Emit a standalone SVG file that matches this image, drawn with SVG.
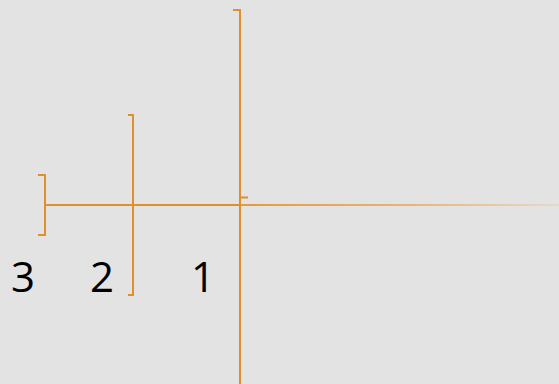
<svg xmlns="http://www.w3.org/2000/svg" width="559" height="384" viewBox="0 0 559 384">
<defs>
<linearGradient id="fade" x1="240" y1="0" x2="559" y2="0" gradientUnits="userSpaceOnUse">
<stop offset="0" stop-color="#E39A3F"/>
<stop offset="0.5" stop-color="#E8B272"/>
<stop offset="1" stop-color="#E6D9C8"/>
</linearGradient>
<style>
.ln{stroke:#DF8F2D;stroke-width:2;fill:none}
.thin{stroke:#DF8F2D;stroke-width:1.8;fill:none}
.lbl{font-family:"Open Sans","Noto Sans",sans-serif;font-size:42px;fill:#000}
</style>
</defs>
<rect width="559" height="384" fill="#E3E3E3"/>
<g id="connectors">
<line class="thin" x1="44" y1="205" x2="241" y2="205"/>
<line x1="241" y1="205" x2="559" y2="205" stroke="url(#fade)" stroke-width="1.8"/>
<line class="ln" x1="240" y1="197.5" x2="248" y2="197.5" stroke-width="3"/>
</g>
<g id="node-1">
<polyline class="ln" points="233,10 240,10 240,384"/>
<text class="lbl" x="191" y="292">1</text>
</g>
<g id="node-2">
<polyline class="ln" points="128,115 133,115 133,295 128,295"/>
<text class="lbl" x="90" y="292">2</text>
</g>
<g id="node-3">
<polyline class="ln" points="38,175 45,175 45,235 38,235"/>
<text class="lbl" x="11" y="292">3</text>
</g>
</svg>
